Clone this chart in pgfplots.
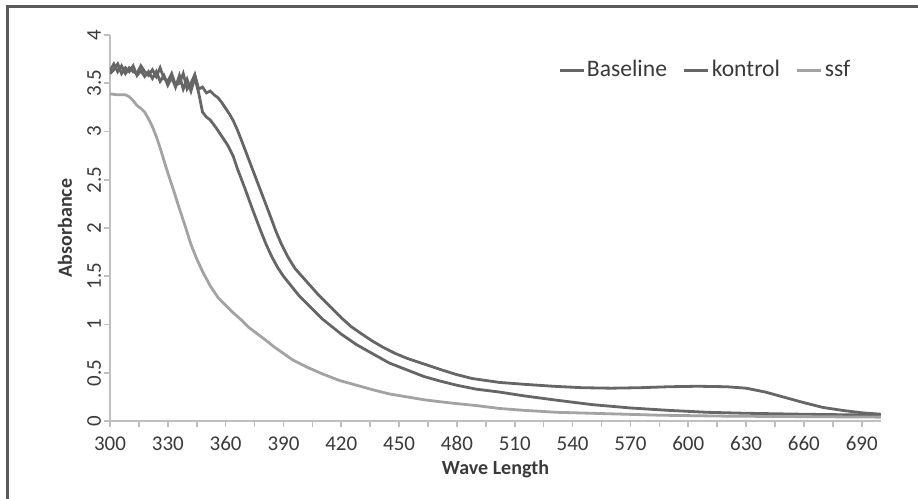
\documentclass[border=0pt]{standalone}
\usepackage{pgfplots}
\pgfplotsset{compat=1.18}
\usepackage{fontspec}
\setmainfont{Carlito}
\definecolor{darkc}{HTML}{666666}
\definecolor{lightc}{HTML}{A3A3A3}
\definecolor{axisc}{HTML}{BFBFBF}
\definecolor{txtc}{HTML}{3A3A3A}
\definecolor{framec}{HTML}{5A5A5A}
\begin{document}
\begin{tikzpicture}
\path[use as bounding box] (0,0) rectangle (459pt,249.5pt);
\draw[framec, line width=1.5pt] (3.5pt,0pt) -- (3.5pt,246pt) -- (459pt,246pt);
\begin{axis}[
  at={(55pt,39pt)}, anchor=south west,
  scale only axis, width=385.5pt, height=193pt,
  xmin=300, xmax=700, ymin=0, ymax=4,
  xtick={300,330,...,690}, minor x tick num=1,
  ytick={0,0.5,...,4},
  axis x line=bottom, axis y line=left,
  axis line style={-, draw=axisc, line width=0.8pt},
  tick style={draw=axisc, line width=0.8pt},
  tick align=outside,
  major tick length=3pt, minor tick length=3pt,
  /pgf/number format/assume math mode=true,
  ticklabel style={font=\fontsize{10.5}{12}\selectfont, text=txtc},
  xticklabel style={yshift=-3.5pt, inner ysep=1pt},
  yticklabel style={rotate=90, anchor=south, yshift=-2pt},
  xlabel={Wave Length},
  ylabel={Absorbance},
  label style={font=\bfseries\fontsize{10}{12}\selectfont, text=txtc},
  xlabel style={at={(axis description cs:0.5,0)}, anchor=center, yshift=-24pt, inner ysep=1pt},
  ylabel style={at={(axis description cs:0,0.5)}, anchor=center, yshift=22.5pt},
  legend columns=3,
  legend image code/.code={\draw[#1] (0pt,0pt) -- (12pt,0pt);},
  legend style={draw=none, fill=none, at={(0.772,0.909)}, anchor=center,
    font=\fontsize{11.8}{13}\selectfont, text=txtc,
    nodes={inner xsep=1pt},
    /tikz/every even column/.append style={column sep=7pt}},
]
\addplot[darkc, line width=1.4pt] coordinates {
(300,3.63)(302,3.70)(304,3.62)(306,3.68)(308,3.60)(310,3.66)(312,3.62)(314,3.60)
(316,3.68)(318,3.62)(320,3.58)(322,3.64)(324,3.57)(326,3.66)(328,3.55)(330,3.52)
(332,3.60)(334,3.48)(336,3.50)(338,3.60)(340,3.44)(342,3.50)(344,3.59)(346,3.44)
(348,3.46)(350,3.40)(352,3.42)(354,3.38)(356,3.35)(358,3.30)(360,3.24)(362,3.18)
(364,3.11)(366,3.02)(368,2.92)(372,2.71)(376,2.50)(380,2.29)(384,2.08)(386,1.97)
(389,1.83)(392,1.71)(396,1.58)(400,1.49)(404,1.40)(408,1.31)(412,1.23)(416,1.15)
(420,1.07)(425,0.98)(430,0.91)(436,0.83)(442,0.76)(448,0.70)(454,0.65)(460,0.61)
(466,0.57)(472,0.53)(480,0.48)(488,0.44)(495,0.42)(502,0.40)(515,0.38)(530,0.36)
(545,0.345)(560,0.34)(575,0.345)(590,0.355)(605,0.36)(620,0.355)(630,0.34)(640,0.30)
(650,0.245)(660,0.19)(670,0.14)(680,0.11)(690,0.085)(700,0.07)
};
\addlegendentry{Baseline}
\addplot[darkc, line width=1.4pt] coordinates {
(300,3.60)(302,3.64)(304,3.70)(306,3.60)(308,3.66)(310,3.62)(312,3.68)(314,3.58)
(316,3.63)(318,3.57)(320,3.62)(322,3.55)(324,3.62)(326,3.52)(328,3.58)(330,3.48)
(332,3.56)(334,3.46)(336,3.58)(338,3.44)(340,3.54)(342,3.42)(344,3.56)(346,3.40)
(348,3.20)(350,3.15)(352,3.12)(355,3.04)(358,2.95)(361,2.86)(364,2.74)(366,2.62)
(370,2.41)(374,2.19)(378,1.98)(381,1.83)(384,1.70)(387,1.59)(390,1.50)(394,1.40)
(398,1.30)(402,1.22)(406,1.14)(410,1.06)(415,0.98)(420,0.90)(428,0.79)(436,0.70)
(445,0.60)(454,0.53)(463,0.46)(472,0.41)(480,0.37)(490,0.33)(502,0.30)(515,0.26)
(530,0.22)(550,0.17)(570,0.135)(590,0.11)(610,0.09)(630,0.08)(660,0.07)(700,0.06)
};
\addlegendentry{kontrol}
\addplot[lightc, line width=1.4pt] coordinates {
(300,3.39)(304,3.38)(308,3.38)(310,3.36)(312,3.32)(314,3.27)(316,3.24)(318,3.20)
(320,3.13)(322,3.05)(324,2.95)(326,2.83)(328,2.70)(330,2.57)(333,2.39)(336,2.20)
(339,2.02)(342,1.83)(345,1.68)(348,1.55)(352,1.40)(356,1.28)(360,1.20)(364,1.12)
(368,1.05)(372,0.97)(376,0.91)(380,0.85)(385,0.77)(390,0.70)(395,0.63)(402,0.56)
(410,0.49)(419,0.42)(428,0.37)(437,0.32)(445,0.28)(454,0.25)(463,0.22)(471,0.20)
(480,0.18)(490,0.16)(502,0.13)(515,0.11)(532,0.09)(550,0.08)(585,0.06)(620,0.05)
(660,0.045)(700,0.04)
};
\addlegendentry{ssf}
\end{axis}
\end{tikzpicture}
\end{document}
